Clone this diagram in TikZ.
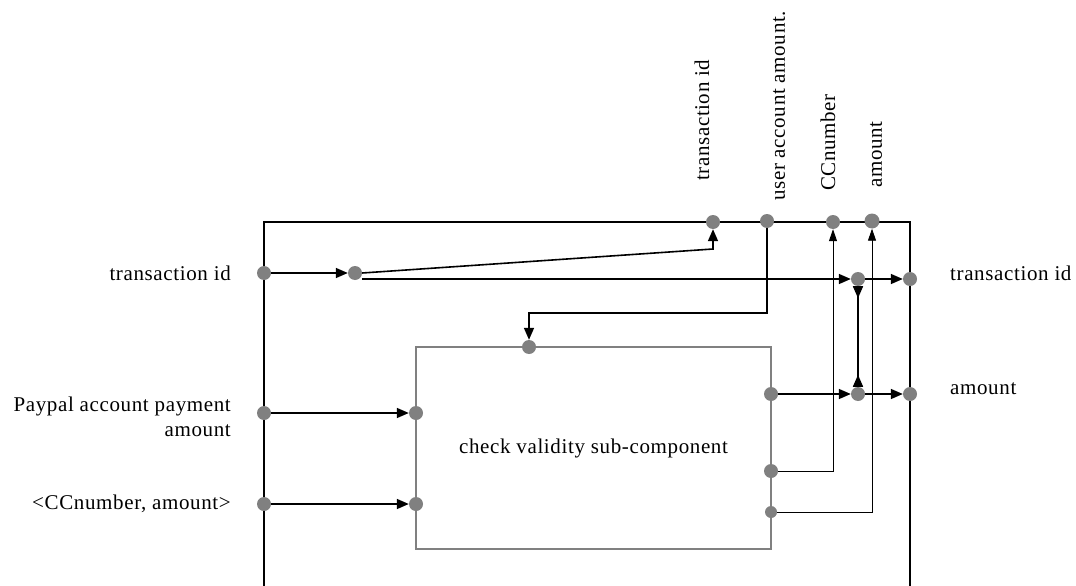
\documentclass[tikz,border=0pt]{standalone}
\usepackage{fontspec}
\setmainfont{Liberation Serif}[LetterSpace=3]
\usetikzlibrary{arrows.meta}

\begin{document}
\begin{tikzpicture}[x=1pt, y=-1pt, font=\fontsize{21}{25}\selectfont,
    port/.style={circle, fill=gray, inner sep=0pt, minimum size=14pt},
    conn/.style={line width=1.6pt, -{Triangle[length=12pt, width=10pt]}},
    thinconn/.style={line width=0.9pt, -{Triangle[length=12pt, width=8pt]}},
    lbl/.style={inner sep=0pt}]
  \useasboundingbox (0, 0) rectangle (1076, 586);

  % the component, open at the bottom
  \draw[line width=1.6pt] (264, 586) -- (264, 222) -- (910, 222) -- (910, 586);

  % the sub-component
  \node[draw=gray, line width=1.6pt, minimum width=355pt, minimum height=202pt, inner sep=0pt]
    (chk) at (593.5, 448) {check validity sub-component};

  % ports on the outer box
  \node[port] (tidin) at (264, 273) {};
  \node[port] (ppin) at (264, 413) {};
  \node[port] (ccin) at (264, 504) {};
  \node[port] (tidtop) at (713, 222) {};
  \node[port] (uatop) at (767, 221) {};
  \node[port] (cctop) at (833, 222) {};
  \node[port, minimum size=15pt] (amttop) at (872, 221) {};
  \node[port] (tidout) at (910, 279) {};
  \node[port] (amtout) at (910, 394) {};

  % inner junctions
  \node[port] (tidsplit) at (355, 273) {};
  \node[port] (tidmid) at (858, 279) {};
  \node[port] (amtmid) at (858, 394) {};

  % ports on the sub-component
  \node[port] (chktop) at (529, 347) {};
  \node[port] (chkpp) at (416, 413) {};
  \node[port] (chkcc) at (416, 504) {};
  \node[port] (chkamt) at (771, 394) {};
  \node[port] (chkccout) at (771, 471) {};
  \node[port, minimum size=12pt] (chkamtout) at (771, 512) {};

  % labels
  \node[lbl, anchor=east] at (231, 273) {transaction id};
  \node[lbl, anchor=east, align=right] at (231, 417) {Paypal account payment\\amount};
  \node[lbl, anchor=east] at (231, 504) {<CCnumber, amount>};
  \node[lbl, anchor=west] at (950, 273) {transaction id};
  \node[lbl, anchor=west] at (950, 389) {amount};
  \node[lbl, anchor=west, rotate=90] at (702, 181) {transaction id};
  \node[lbl, anchor=west, rotate=90] at (779, 201) {user account amount.};
  \node[lbl, anchor=west, rotate=90] at (828, 191) {CCnumber};
  \node[lbl, anchor=west, rotate=90] at (876, 188) {amount};

  % connections
  \coordinate (tidbend) at (713, 249);
  \draw[conn] (tidin) -- (tidsplit);
  \draw[conn] (tidsplit.east) -- (tidbend) -- (tidtop);
  \draw[conn] ([yshift=-6pt]tidsplit.east) -- (tidmid);
  \draw[conn] (tidmid) -- (tidout);
  \draw[conn] (uatop) -- ++(0, 92) -| (chktop);
  \draw[conn] (ppin) -- (chkpp);
  \draw[conn] (ccin) -- (chkcc);
  \draw[conn] (chkamt) -- (amtmid);
  \draw[conn] (amtmid) -- (amtout);
  \draw[line width=1.6pt, {Triangle[reversed, length=12pt, width=10pt]}-{Triangle[reversed, length=12pt, width=10pt]}]
    (tidmid) -- (amtmid);
  \draw[thinconn] (chkccout) -| (cctop);
  \draw[thinconn] (chkamtout) -| (amttop);
\end{tikzpicture}
\end{document}
